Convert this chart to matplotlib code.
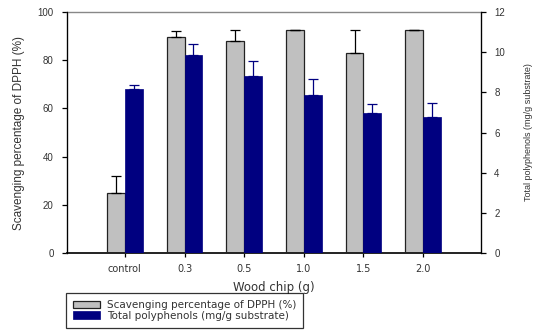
import matplotlib.pyplot as plt
import numpy as np

plt.rcParams['font.family'] = ['Liberation Sans', 'DejaVu Sans']

categories = ["control", "0.3", "0.5", "1.0", "1.5", "2.0"]
# DPPH scavenging (%) on the left axis
dpph = [25.0, 89.5, 87.8, 92.4, 82.9, 92.4]
dpph_err = [6.8, 2.6, 4.8, 0.3, 9.5, 0.3]
# total polyphenols (mg/g substrate) on the right axis
poly = [8.17, 9.85, 8.82, 7.88, 6.98, 6.77]
poly_err = [0.22, 0.54, 0.72, 0.79, 0.45, 0.70]

GRAY = "#c0c0c0"
NAVY = "#000080"
TXT = "#333333"
WIDE = "DejaVu Sans"

fig = plt.figure(figsize=(5.33, 3.3), dpi=100)
ax = fig.add_axes([0.1257, 0.2333, 0.7767, 0.7303])
ax2 = ax.twinx()

x = np.arange(1, len(categories) + 1)
w = 0.3

ax.bar(x - w / 2, dpph, w, color=GRAY, edgecolor="#222222", linewidth=0.9,
       label="Scavenging percentage of DPPH (%)", zorder=2)
ax.errorbar(x - w / 2, dpph, yerr=[np.zeros(len(dpph)), dpph_err], fmt="none",
            ecolor="black", elinewidth=0.9, capsize=3.3, capthick=0.9, zorder=3)

ax2.bar(x + w / 2, poly, w, color=NAVY, edgecolor=NAVY, linewidth=0.5,
        label="Total polyphenols (mg/g substrate)", zorder=2)
ax2.errorbar(x + w / 2, poly, yerr=[np.zeros(len(poly)), poly_err], fmt="none",
             ecolor=NAVY, elinewidth=0.9, capsize=3.3, capthick=0.9, zorder=3)

ax.set_xlim(0.03, 6.97)
ax.set_ylim(0, 100)
ax2.set_ylim(0, 12)
ax.set_yticks(range(0, 101, 20))
ax2.set_yticks(range(0, 13, 2))
ax.set_xticks(x)
ax.set_xticklabels(categories, fontfamily=WIDE)

for a in (ax, ax2):
    a.tick_params(axis="both", labelsize=7, colors="black", labelcolor=TXT,
                  length=3.5, width=0.9, direction="out", pad=6)
ax.tick_params(axis="x", length=3, pad=5)

ax.spines["top"].set_color("#888888")
ax.spines["top"].set_linewidth(1.0)
ax2.spines["top"].set_visible(False)
ax.spines["bottom"].set_linewidth(1.4)
ax.spines["bottom"].set_color("#222222")
ax2.spines["bottom"].set_visible(False)
ax.spines["left"].set_linewidth(0.9)
ax2.spines["right"].set_linewidth(0.9)

ax.set_xlabel("Wood chip (g)", fontsize=8.5, fontfamily=WIDE, color=TXT, labelpad=5)
ax.set_ylabel("Scavenging percentage of DPPH (%)", fontsize=8.5, color=TXT, labelpad=9)
ax2.set_ylabel("Total polyphenols (mg/g substrate)", fontsize=6.5, color=TXT, labelpad=14)

h1, l1 = ax.get_legend_handles_labels()
h2, l2 = ax2.get_legend_handles_labels()
leg = fig.legend(h1 + h2, l1 + l2, loc="upper left",
                 bbox_to_anchor=(66 / 533, 1 - 293 / 330),
                 prop={"family": WIDE, "size": 7.5},
                 frameon=True, fancybox=False, edgecolor="black",
                 handlelength=2.6, handleheight=0.75, handletextpad=0.6,
                 labelspacing=0.05, borderpad=0.7, borderaxespad=0)
leg.get_frame().set_linewidth(0.9)
for t in leg.get_texts():
    t.set_color(TXT)

fig.savefig("out.png", dpi=100)
